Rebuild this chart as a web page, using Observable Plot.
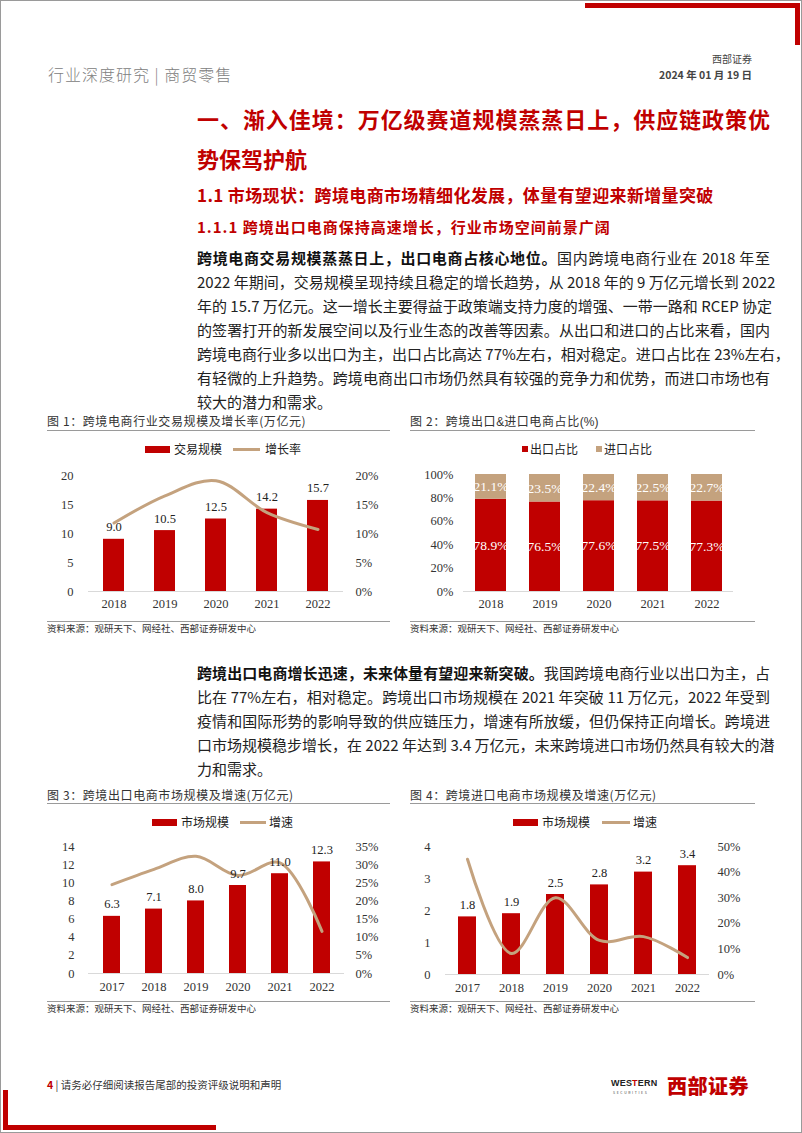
<!DOCTYPE html>
<html><head><meta charset="utf-8">
<script src="https://cdn.jsdelivr.net/npm/d3@7"></script>
<script src="https://cdn.jsdelivr.net/npm/@observablehq/plot@0.6"></script>
<style>
html,body{margin:0;padding:0;background:#fff;}
#page{position:relative;width:802px;height:1133px;overflow:hidden;background:#fff;font-family:"Noto Sans CJK SC","Noto Sans",sans-serif;color:#222;}
.abs{position:absolute;}
.frame{position:absolute;left:0;top:0;width:800px;height:1131px;border:1px solid #9a9a9a;}
.red{background:#C00000;}
.h1{position:absolute;left:197px;width:573px;font-size:22px;font-weight:700;color:#C00000;text-align-last:justify;white-space:nowrap;line-height:30px;}
.h2{position:absolute;left:197px;font-size:17px;letter-spacing:0.35px;font-weight:700;color:#C00000;white-space:nowrap;line-height:24px;}
.h3{position:absolute;left:197px;font-size:15px;letter-spacing:1px;font-weight:700;color:#C00000;white-space:nowrap;line-height:24px;}
.para{position:absolute;left:197px;width:573px;font-size:15px;line-height:24px;color:#222;}
.para div{text-align:justify;text-align-last:justify;white-space:nowrap;height:24px;}
.para div.last{text-align-last:left;}
.para b{font-weight:700;color:#111;}
.ctitle{position:absolute;font-size:12px;color:#333;letter-spacing:0.6px;white-space:nowrap;line-height:16px;}
.lat{font-family:'Liberation Sans',sans-serif;letter-spacing:0;}
.hline{position:absolute;height:1px;background:#9a9a9a;}
.src{position:absolute;font-size:9.5px;color:#333;white-space:nowrap;line-height:12px;}
.leg{position:absolute;font-size:12px;color:#222;white-space:nowrap;line-height:14px;}
.sw{position:absolute;}
.chart{position:absolute;}
</style></head>
<body><div id="page">
<div class="frame"></div>
<div class="abs red" style="left:585px;top:3px;width:215px;height:5px;"></div>
<div class="abs red" style="left:795px;top:3px;width:5px;height:42px;"></div>
<div class="abs red" style="left:3px;top:1090px;width:5px;height:40px;"></div>
<div class="abs red" style="left:3px;top:1125px;width:213px;height:5px;"></div>

<div class="abs" style="left:48px;top:62px;font-size:16px;color:#808080;font-weight:300;letter-spacing:1px;white-space:nowrap;">行业深度研究 | 商贸零售</div>
<div class="abs" style="right:50px;top:51px;font-size:10px;color:#444;white-space:nowrap;">西部证券</div>
<div class="abs" style="right:50px;top:67px;font-size:10.5px;color:#444;font-weight:700;white-space:nowrap;">2024 年 01 月 19 日</div>

<div class="h1" style="top:103px;">一、渐入佳境：万亿级赛道规模蒸蒸日上，供应链政策优</div>
<div class="h1" style="top:143px;text-align-last:left;">势保驾护航</div>
<div class="h2" style="top:183px;">1.1 市场现状：跨境电商市场精细化发展，体量有望迎来新增量突破</div>
<div class="h3" style="top:215px;">1.1.1 跨境出口电商保持高速增长，行业市场空间前景广阔</div>

<div class="para" style="top:246px;">
<div><b>跨境电商交易规模蒸蒸日上，出口电商占核心地位。</b>国内跨境电商行业在 2018 年至</div>
<div>2022 年期间，交易规模呈现持续且稳定的增长趋势，从 2018 年的 9 万亿元增长到 2022</div>
<div>年的 15.7 万亿元。这一增长主要得益于政策端支持力度的增强、一带一路和 RCEP 协定</div>
<div>的签署打开的新发展空间以及行业生态的改善等因素。从出口和进口的占比来看，国内</div>
<div>跨境电商行业多以出口为主，出口占比高达 77%左右，相对稳定。进口占比在 23%左右，</div>
<div>有轻微的上升趋势。跨境电商出口市场仍然具有较强的竞争力和优势，而进口市场也有</div>
<div class="last">较大的潜力和需求。</div>
</div>

<div class="ctitle" style="left:47px;top:413px;">图 1：跨境电商行业交易规模及增长率(万亿元)</div>
<div class="hline" style="left:47px;top:430px;width:343px;"></div>
<div class="ctitle" style="left:410px;top:413px;">图 2：跨境出口<span class="lat">&amp;</span>进口电商占比<span class="lat">(%)</span></div>
<div class="hline" style="left:410px;top:430px;width:345px;"></div>

<div class="sw" style="left:145px;top:446px;width:25px;height:7px;background:#C00000;"></div>
<div class="leg" style="left:174px;top:442px;">交易规模</div>
<div class="sw" style="left:233px;top:448px;width:27px;height:3px;background:#C4A27E;"></div>
<div class="leg" style="left:265px;top:442px;">增长率</div>

<div class="sw" style="left:522px;top:446px;width:6px;height:6px;background:#C00000;"></div>
<div class="leg" style="left:530px;top:442px;">出口占比</div>
<div class="sw" style="left:596px;top:446px;width:6px;height:6px;background:#C4A27E;"></div>
<div class="leg" style="left:604px;top:442px;">进口占比</div>

<div id="c1" class="chart" style="left:30px;top:455px;"></div>
<div id="c2" class="chart" style="left:400px;top:455px;"></div>

<div class="hline" style="left:47px;top:621px;width:343px;"></div>
<div class="src" style="left:47px;top:622px;">资料来源：观研天下、网经社、西部证券研发中心</div>
<div class="hline" style="left:410px;top:621px;width:345px;"></div>
<div class="src" style="left:410px;top:622px;">资料来源：观研天下、网经社、西部证券研发中心</div>

<div class="para" style="top:661px;">
<div><b>跨境出口电商增长迅速，未来体量有望迎来新突破。</b>我国跨境电商行业以出口为主，占</div>
<div>比在 77%左右，相对稳定。跨境出口市场规模在 2021 年突破 11 万亿元，2022 年受到</div>
<div>疫情和国际形势的影响导致的供应链压力，增速有所放缓，但仍保持正向增长。跨境进</div>
<div>口市场规模稳步增长，在 2022 年达到 3.4 万亿元，未来跨境进口市场仍然具有较大的潜</div>
<div class="last">力和需求。</div>
</div>

<div class="ctitle" style="left:47px;top:787px;">图 3：跨境出口电商市场规模及增速(万亿元)</div>
<div class="hline" style="left:47px;top:803px;width:343px;"></div>
<div class="ctitle" style="left:410px;top:787px;">图 4：跨境进口电商市场规模及增速(万亿元)</div>
<div class="hline" style="left:410px;top:803px;width:345px;"></div>

<div class="sw" style="left:152px;top:819px;width:25px;height:7px;background:#C00000;"></div>
<div class="leg" style="left:181px;top:815px;">市场规模</div>
<div class="sw" style="left:240px;top:821px;width:26px;height:3px;background:#C4A27E;"></div>
<div class="leg" style="left:269px;top:815px;">增速</div>

<div class="sw" style="left:513px;top:819px;width:25px;height:7px;background:#C00000;"></div>
<div class="leg" style="left:542px;top:815px;">市场规模</div>
<div class="sw" style="left:602px;top:821px;width:28px;height:3px;background:#C4A27E;"></div>
<div class="leg" style="left:633px;top:815px;">增速</div>

<div id="c3" class="chart" style="left:30px;top:830px;"></div>
<div id="c4" class="chart" style="left:400px;top:830px;"></div>

<div class="hline" style="left:47px;top:1001px;width:343px;"></div>
<div class="src" style="left:47px;top:1002px;">资料来源：观研天下、网经社、西部证券研发中心</div>
<div class="hline" style="left:410px;top:1001px;width:345px;"></div>
<div class="src" style="left:410px;top:1002px;">资料来源：观研天下、网经社、西部证券研发中心</div>

<div class="abs" style="left:47px;top:1077px;font-size:10.5px;color:#333;white-space:nowrap;"><span style="color:#C00000;font-weight:700;">4</span> | 请务必仔细阅读报告尾部的投资评级说明和声明</div>
<div class="abs" style="left:611px;top:1078px;font-size:9px;font-weight:700;color:#222;letter-spacing:0.2px;font-family:'Liberation Sans',sans-serif;white-space:nowrap;">WES<span style="color:#C00000">T</span>ERN</div>
<div class="abs" style="left:613px;top:1090px;font-size:3.5px;color:#444;letter-spacing:1.6px;white-space:nowrap;">SECURITIES</div>
<div class="abs" style="left:667px;top:1071px;font-size:20px;font-weight:900;color:#C00000;white-space:nowrap;letter-spacing:0.5px;">西部证券</div>
</div>

<script>
// ---- data ----
const years1 = ["2018", "2019", "2020", "2021", "2022"];
const tradeScale = [9.0, 10.5, 12.5, 14.2, 15.7];
const tradeGrowth = [11.8, 16.5, 19.1, 13.6, 10.7];
const ticksLeft1 = [0, 5, 10, 15, 20];
const ticksRight1 = [0, 5, 10, 15, 20];

const years2 = ["2018", "2019", "2020", "2021", "2022"];
const exportShare = [78.9, 76.5, 77.6, 77.5, 77.3];
const importShare = [21.1, 23.5, 22.4, 22.5, 22.7];
const shareSeries = ["出口占比", "进口占比"];
const ticksLeft2 = [0, 20, 40, 60, 80, 100];

const years3 = ["2017", "2018", "2019", "2020", "2021", "2022"];
const exportScale = [6.3, 7.1, 8.0, 9.7, 11.0, 12.3];
const exportGrowth = [24.5, 28.7, 32.3, 27.0, 30.5, 11.6];
const ticksLeft3 = [0, 2, 4, 6, 8, 10, 12, 14];
const ticksRight3 = [0, 5, 10, 15, 20, 25, 30, 35];

const years4 = ["2017", "2018", "2019", "2020", "2021", "2022"];
const importScale = [1.8, 1.9, 2.5, 2.8, 3.2, 3.4];
const importGrowth = [45.0, 8.2, 30.0, 13.3, 14.8, 6.6];
const ticksLeft4 = [0, 1, 2, 3, 4];
const ticksRight4 = [0, 10, 20, 30, 40, 50];

const RED = "#C00000";
const TAN = "#C4A27E";
const SERIF = "'Liberation Serif','Times New Roman',serif";

function dualChart(el, cfg) {
  const bars = cfg.years.map((y, i) => ({year: y, value: cfg.values[i]}));
  const ratio = d3.max(cfg.rightTicks) / d3.max(cfg.leftTicks);
  const line = cfg.years.map((y, i) => ({year: y, g: cfg.growth[i] / ratio}));
  const rt = cfg.rightTicks.map(t => ({v: t / ratio, label: t + "%"}));
  const svg = Plot.plot({
    width: cfg.width, height: cfg.height,
    marginLeft: cfg.ml, marginRight: cfg.mr, marginTop: cfg.mt, marginBottom: cfg.mb,
    style: {fontFamily: SERIF, fontSize: "12.5px", color: "#333", background: "transparent", overflow: "visible"},
    x: {domain: cfg.years, paddingInner: cfg.pad, paddingOuter: cfg.pad / 2, tickSize: 0, tickPadding: cfg.xpad, label: null},
    y: {domain: [0, d3.max(cfg.leftTicks)], ticks: cfg.leftTicks, tickSize: 0, tickPadding: cfg.ypad, label: null, tickFormat: d => String(d)},
    marks: [
      Plot.barY(bars, {x: "year", y: "value", fill: RED}),
      Plot.ruleY([0], {stroke: "#d9d9d9", strokeWidth: 1}),
      Plot.line(line, {x: "year", y: "g", stroke: TAN, strokeWidth: 3, curve: "catmull-rom"}),
      Plot.text(bars, {x: "year", y: "value", text: d => d.value.toFixed(1), dy: -12, fill: "#222", fontSize: 12.5}),
      Plot.text(rt, {y: "v", text: "label", frameAnchor: "right", dx: cfg.rdx, textAnchor: "start", fill: "#333", fontSize: 12.5})
    ]
  });
  el.appendChild(svg);
}

dualChart(document.getElementById("c1"), {
  years: years1, values: tradeScale, growth: tradeGrowth, leftTicks: ticksLeft1, rightTicks: ticksRight1,
  width: 360, height: 165, ml: 58, mr: 47, mt: 20, mb: 29, pad: 0.58, xpad: 8, ypad: 15, rdx: 12
});
dualChart(document.getElementById("c3"), {
  years: years3, values: exportScale, growth: exportGrowth, leftTicks: ticksLeft3, rightTicks: ticksRight3,
  width: 360, height: 165, ml: 58, mr: 46, mt: 16, mb: 22, pad: 0.6, xpad: 9, ypad: 14, rdx: 11
});
dualChart(document.getElementById("c4"), {
  years: years4, values: importScale, growth: importGrowth, leftTicks: ticksLeft4, rightTicks: ticksRight4,
  width: 380, height: 165, ml: 45, mr: 71, mt: 16, mb: 21, pad: 0.59, xpad: 9, ypad: 15, rdx: 8
});

// chart 2: stacked shares
const shares = [];
years2.forEach((y, i) => {
  shares.push({year: y, series: shareSeries[0], value: exportShare[i], mid: exportShare[i] / 2});
  shares.push({year: y, series: shareSeries[1], value: importShare[i], mid: exportShare[i] + importShare[i] / 2});
});
document.getElementById("c2").appendChild(Plot.plot({
  width: 380, height: 165, marginLeft: 63, marginRight: 47, marginTop: 19, marginBottom: 29,
  style: {fontFamily: SERIF, fontSize: "12.5px", color: "#333", background: "transparent", overflow: "visible"},
  x: {domain: years2, paddingInner: 0.43, paddingOuter: 0.215, tickSize: 0, tickPadding: 8, label: null},
  y: {domain: [0, 100], ticks: ticksLeft2, tickSize: 0, tickPadding: 10, label: null, tickFormat: d => d + "%"},
  color: {domain: shareSeries, range: [RED, TAN]},
  marks: [
    Plot.barY(shares, {x: "year", y: "value", fill: "series", order: shareSeries}),
    Plot.ruleY([0], {stroke: "#d9d9d9"}),
    Plot.text(shares, {x: "year", y: "mid", text: d => d.value.toFixed(1) + "%", fill: "#fff", fontSize: 13.5})
  ]
}));
</script>
</body></html>
